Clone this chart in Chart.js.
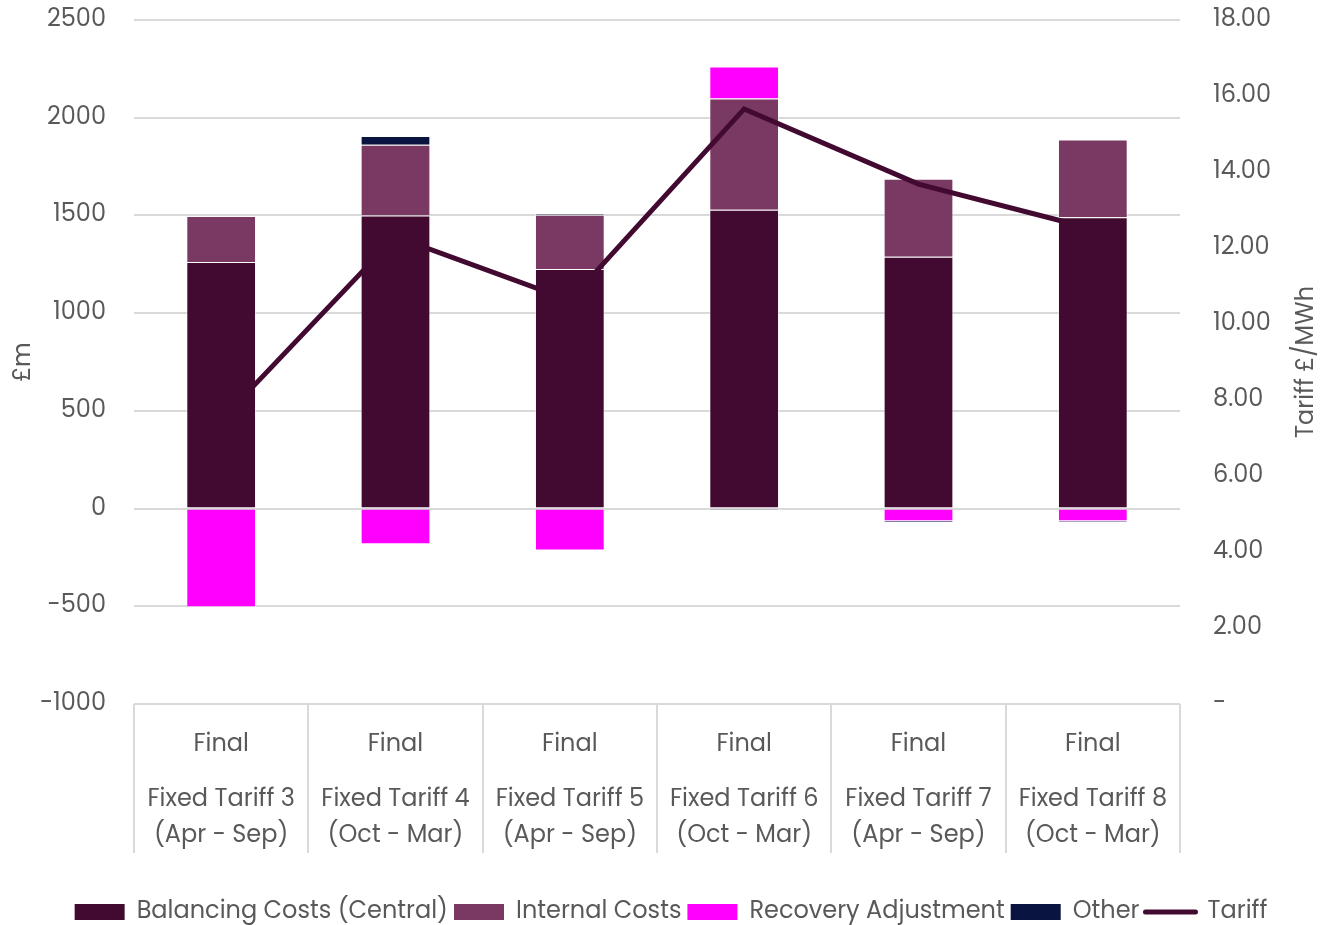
<!DOCTYPE html>
<html>
<head>
<meta charset="utf-8">
<script src="https://cdn.jsdelivr.net/npm/chart.js@4"></script>
<style>
  html, body { margin: 0; padding: 0; background: #ffffff; }
  #wrap { width: 1342px; height: 925px; }
</style>
</head>
<body>
<div id="wrap"><canvas id="c" width="1342" height="925"></canvas></div>
<script>
// ---- data ----
const groupLabels  = ["Final", "Final", "Final", "Final", "Final", "Final"];
const tariffLabels = [
  ["Fixed Tariff 3", "(Apr - Sep)"],
  ["Fixed Tariff 4", "(Oct - Mar)"],
  ["Fixed Tariff 5", "(Apr - Sep)"],
  ["Fixed Tariff 6", "(Oct - Mar)"],
  ["Fixed Tariff 7", "(Apr - Sep)"],
  ["Fixed Tariff 8", "(Oct - Mar)"]
];
const balancingCosts = [1262, 1500, 1226, 1529, 1288, 1491];
const internalCosts  = [235, 362, 277, 569, 400, 397];
const recoveryAdj    = [-505, -182, -215, 164, -65, -65];
const otherCosts     = [0, 45, 5, -8, -8, -5];
const tariff         = [7.47, 12.3, 10.62, 15.66, 13.68, 12.5];
const leftTicks  = { min: -1000, max: 2500, step: 500 };
const rightTicks = { min: 0, max: 18, step: 2 };

const FONT = 'Poppins, "Open Sans", sans-serif';
const TXT = '#595959';
const GRID = '#d9d9d9';
const C_BAL = '#420A30', C_INT = '#7A3962', C_REC = '#FF00FF', C_OTH = '#0A1440';

const rightTitlePlugin = {
  id: 'rightTitle',
  afterDraw(chart) {
    const ctx = chart.ctx;
    const ca = chart.chartArea;
    ctx.save();
    ctx.font = '24px ' + FONT;
    ctx.fillStyle = TXT;
    ctx.textAlign = 'center';
    ctx.textBaseline = 'middle';
    ctx.translate(1307, (ca.top + ca.bottom) / 2);
    ctx.rotate(-Math.PI / 2);
    ctx.fillText('Tariff £/MWh', 0, 0);
    ctx.restore();
  }
};

const barBorder = 'rgba(255,255,255,0.55)';
const barCommon = { type: 'bar', borderColor: barBorder, borderWidth: 1, yAxisID: 'y', xAxisID: 'x', order: 1, barPercentage: 0.8, categoryPercentage: 0.5 };
new Chart(document.getElementById('c'), {
  data: {
    labels: groupLabels,
    datasets: [
      Object.assign({ label: 'Balancing Costs (Central)', data: balancingCosts, backgroundColor: C_BAL }, barCommon),
      Object.assign({ label: 'Internal Costs', data: internalCosts, backgroundColor: C_INT }, barCommon),
      Object.assign({ label: 'Recovery Adjustment', data: recoveryAdj, backgroundColor: C_REC }, barCommon),
      Object.assign({ label: 'Other', data: otherCosts, backgroundColor: C_OTH }, barCommon),
      { type: 'line', label: 'Tariff', data: tariff, borderColor: C_BAL, backgroundColor: C_BAL, borderWidth: 5, pointRadius: 0, tension: 0, yAxisID: 'y1', xAxisID: 'x', order: 0, borderJoinStyle: 'miter' }
    ]
  },
  options: {
    responsive: false,
    devicePixelRatio: 1,
    animation: false,
    layout: { padding: { top: 20, left: 0, right: 0, bottom: -9 } },
    plugins: {
      tooltip: { enabled: false },
      legend: {
        position: 'bottom',
        labels: {
          font: { family: FONT, size: 24 },
          color: TXT,
          usePointStyle: true,
          pointStyleWidth: 50,
          boxHeight: 16,
          padding: 6,
          sort: (a, b) => a.datasetIndex - b.datasetIndex,
          generateLabels(chart) {
            return chart.data.datasets.map((d, i) => ({
              text: d.label,
              fillStyle: d.backgroundColor,
              strokeStyle: d.type === 'line' ? d.borderColor : d.backgroundColor,
              lineWidth: d.type === 'line' ? 5 : 0,
              lineCap: 'round',
              pointStyle: d.type === 'line' ? 'line' : 'rect',
              fontColor: TXT,
              hidden: false,
              datasetIndex: i
            }));
          }
        }
      }
    },
    scales: {
      x: {
        stacked: true,
        position: 'bottom',
        weight: 1,
        grid: { offset: true, drawOnChartArea: false, drawTicks: true, tickLength: 149, color: GRID, lineWidth: 2 },
        border: { display: false },
        ticks: { font: { family: FONT, size: 24, lineHeight: 1.2 }, color: TXT, padding: -122, maxRotation: 0, autoSkip: false },
        afterFit(s) { s.height = 55; }
      },
      x2: {
        type: 'category',
        position: 'bottom',
        weight: 2,
        labels: tariffLabels,
        offset: true,
        grid: { display: false, drawTicks: false },
        border: { display: false },
        ticks: { font: { family: FONT, size: 24, lineHeight: 1.5 }, color: TXT, padding: 23, maxRotation: 0, autoSkip: false },
        afterFit(s) { s.height = 135; }
      },
      y: {
        stacked: true,
        position: 'left',
        min: leftTicks.min, max: leftTicks.max,
        ticks: { stepSize: leftTicks.step, font: { family: FONT, size: 24 }, color: TXT, padding: 0, callback: v => String(v) },
        grid: { color: GRID, lineWidth: 2, drawTicks: true, tickLength: 28, tickColor: 'rgba(0,0,0,0)' },
        border: { display: false },
        title: { display: true, text: '£m', font: { family: FONT, size: 24 }, color: TXT, padding: { top: 10, bottom: 0 } },
        afterFit(s) { s.width = 134; }
      },
      y1: {
        position: 'right',
        min: rightTicks.min, max: rightTicks.max,
        ticks: {
          stepSize: rightTicks.step, font: { family: FONT, size: 24 }, color: TXT, padding: 0,
          callback: v => v === 0 ? '-' : Number(v).toFixed(2)
        },
        grid: { display: true, drawOnChartArea: false, drawTicks: true, tickLength: 33, tickColor: 'rgba(0,0,0,0)', color: 'rgba(0,0,0,0)' },
        border: { display: false },
        afterFit(s) { s.width = 162; }
      }
    }
  },
  plugins: [rightTitlePlugin]
});
</script>
</body>
</html>
